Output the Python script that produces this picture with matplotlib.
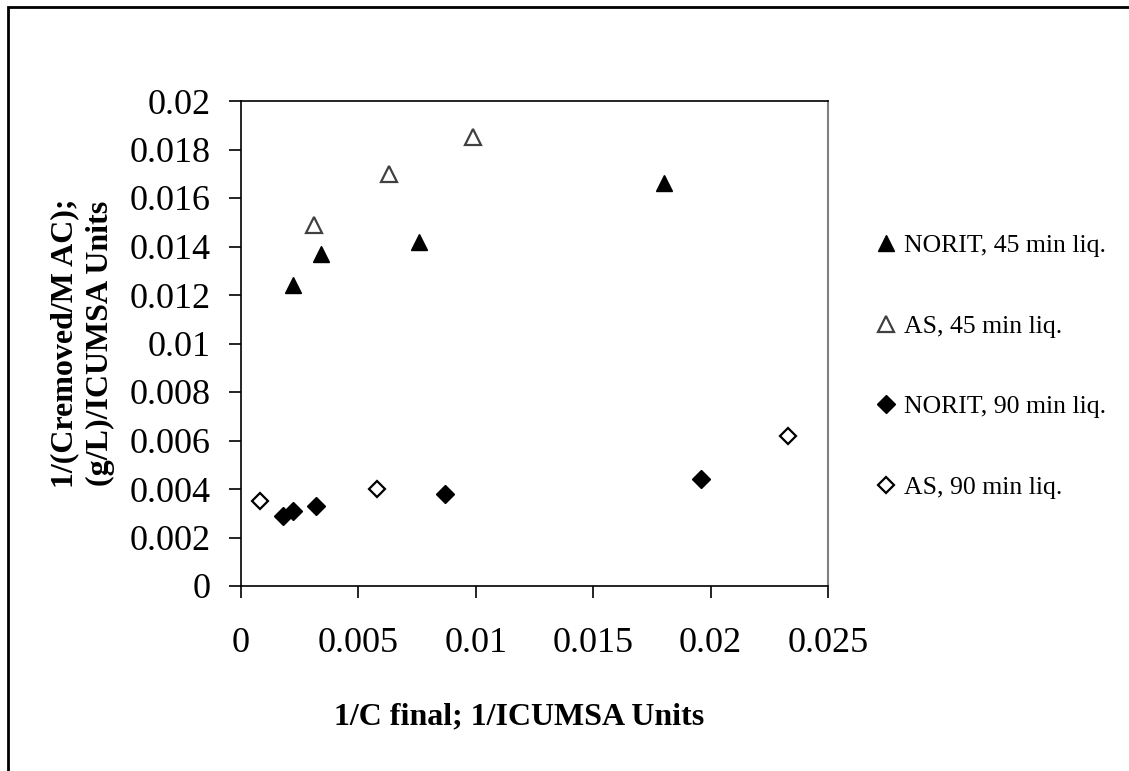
import matplotlib.pyplot as plt
from matplotlib.patches import Rectangle

plt.rcParams['font.family'] = ['Liberation Serif', 'DejaVu Serif']

# 1/C final vs 1/(Cremoved/M AC) for the two carbons and two liquor times
norit45_x = [0.0022, 0.0034, 0.0076, 0.0180]
norit45_y = [0.0124, 0.0137, 0.0142, 0.0166]
as45_x = [0.0031, 0.0063, 0.0099]
as45_y = [0.0149, 0.0170, 0.0185]
norit90_x = [0.0018, 0.0022, 0.0032, 0.0087, 0.0196]
norit90_y = [0.0029, 0.0031, 0.0033, 0.0038, 0.0044]
as90_x = [0.0008, 0.0058, 0.0233]
as90_y = [0.0035, 0.0040, 0.0062]

xticks = [0, 0.005, 0.01, 0.015, 0.02, 0.025]
xtick_labels = ['0', '0.005', '0.01', '0.015', '0.02', '0.025']
yticks = [0, 0.002, 0.004, 0.006, 0.008, 0.01, 0.012, 0.014, 0.016, 0.018, 0.02]
ytick_labels = ['0', '0.002', '0.004', '0.006', '0.008', '0.01', '0.012',
                '0.014', '0.016', '0.018', '0.02']

fig = plt.figure(figsize=(11.29, 7.71), dpi=100)
ax = fig.add_axes([241 / 1129, 1 - 586 / 771, 587 / 1129, 485 / 771])

ax.plot(norit45_x, norit45_y, linestyle='none', marker='^', markersize=11.5,
        markeredgewidth=1, color='black', label='NORIT, 45 min liq.')
ax.plot(as45_x, as45_y, linestyle='none', marker='^', markersize=11.5,
        markerfacecolor='white', markeredgecolor='#404040', markeredgewidth=1.6,
        label='AS, 45 min liq.')
ax.plot(norit90_x, norit90_y, linestyle='none', marker='D', markersize=9,
        markeredgewidth=1, color='black', label='NORIT, 90 min liq.')
ax.plot(as90_x, as90_y, linestyle='none', marker='D', markersize=8.2,
        markerfacecolor='white', markeredgecolor='black', markeredgewidth=1.6,
        label='AS, 90 min liq.')

ax.set_xlim(0, 0.025)
ax.set_ylim(0, 0.02)
ax.set_xticks(xticks)
ax.set_xticklabels(xtick_labels)
ax.set_yticks(yticks)
ax.set_yticklabels(ytick_labels)
ax.tick_params(direction='out', length=8.5, width=1.2, labelsize=26)
ax.tick_params(axis='x', pad=21)
ax.tick_params(axis='y', pad=13.5)

for side in ['left', 'bottom', 'top']:
    ax.spines[side].set_color('black')
    ax.spines[side].set_linewidth(1.2)
ax.spines['right'].set_color('#808080')
ax.spines['right'].set_linewidth(1.5)

ax.set_xlabel('1/C final; 1/ICUMSA Units', fontsize=23, fontweight='bold')
ax.xaxis.set_label_coords(0.474, -0.24)
ax.set_ylabel('1/(Cremoved/M AC);\n(g/L)/ICUMSA Units', fontsize=23,
              fontweight='bold', labelpad=10, linespacing=1.3)

ax.legend(loc='center left', bbox_to_anchor=(1.033, 0.4526), frameon=False,
          fontsize=18.5, handletextpad=0.1, labelspacing=2.25, handlelength=1.2)

# outer chart frame
fig.patches.append(Rectangle((8 / 1129, -0.1), 1.2, 1 - 7 / 771 + 0.1,
                             transform=fig.transFigure, fill=False,
                             edgecolor='black', linewidth=2))

fig.savefig('out.png', dpi=100)
